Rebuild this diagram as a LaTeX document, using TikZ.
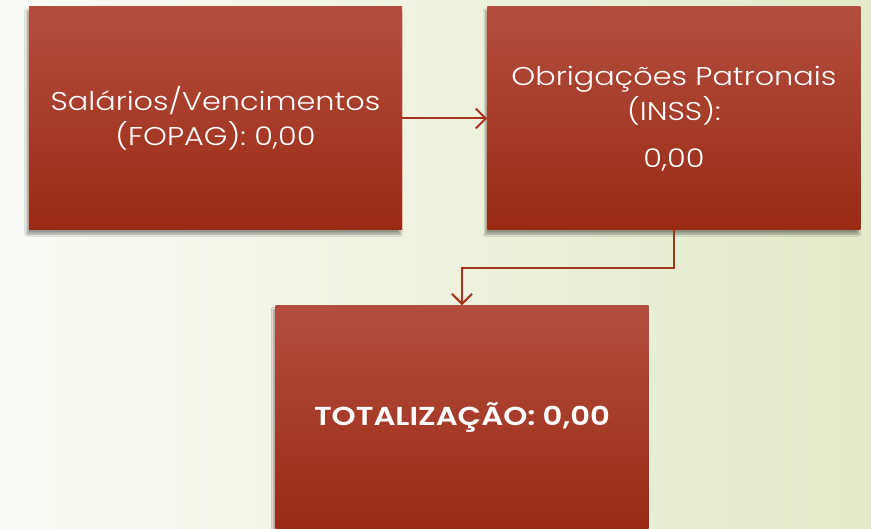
\documentclass[tikz,border=0pt]{standalone}
\usepackage{fontspec}
\setmainfont{Poppins}[UprightFont=* Light, BoldFont=* SemiBold, FakeStretch=1.18]
\usetikzlibrary{positioning,arrows.meta,shadows.blur}
\definecolor{caixatopo}{HTML}{B34E3F}
\definecolor{caixabase}{HTML}{9A2A14}
\definecolor{seta}{HTML}{A8321C}
\definecolor{fundoesq}{HTML}{FAFBF5}
\definecolor{fundodir}{HTML}{E2EAC8}
\begin{document}
\begin{tikzpicture}[x=1pt, y=-1pt,
        caixa/.style={rectangle, minimum width=373pt, minimum height=223pt,
            top color=caixatopo, bottom color=caixabase, text=white, align=center,
            font=\fontsize{25.7}{35}\selectfont,
            blur shadow={shadow xshift=-2pt, shadow yshift=-4pt, shadow blur steps=8}},
        ligacao/.style={draw=seta, line width=2pt,
            -{Straight Barb[length=10pt, width=20pt, line width=2pt]}}]
        \fill[left color=fundoesq, right color=fundodir] (0,0) rectangle (871,529);
        \useasboundingbox (0,0) rectangle (871,529);

        \node[caixa] (fopag) at (215.5,118.5) {Salários/Vencimentos\\(FOPAG): 0,00};
        \node[caixa] (obrig) [right=85pt of fopag] {Obrigações Patronais\\(INSS):\\[12pt]0,00};
        \node[caixa, font=\fontsize{26}{35}\selectfont\bfseries] (total) at (462,417) {TOTALIZAÇÃO: 0,00};

        \draw[ligacao] (fopag) -- (obrig);
        \draw[ligacao] (obrig.south) -- ++(0,38) -| (total.north);
    \end{tikzpicture}
\end{document}
